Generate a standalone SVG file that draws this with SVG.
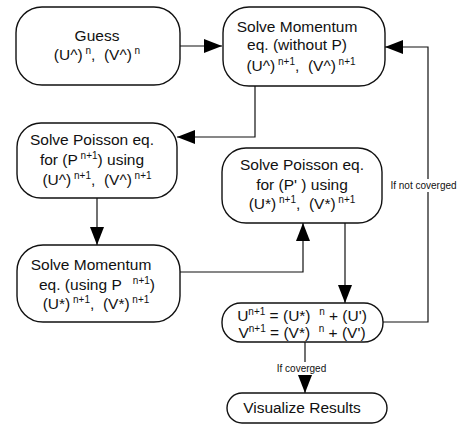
<svg xmlns="http://www.w3.org/2000/svg" width="466" height="426" viewBox="0 0 466 426">
<style>
.node{fill:#fff;stroke:#111;stroke-width:1.4}
.t{font-family:"Liberation Sans",Arial,sans-serif;font-size:15.5px;fill:#111;text-anchor:middle;white-space:pre}
.s{font-size:10px}
.lbl{font-family:"Liberation Sans",Arial,sans-serif;font-size:10px;fill:#111;text-anchor:middle}
.c{fill:none;stroke:#111;stroke-width:1.2}
</style>
<defs>
<marker id="ah" markerUnits="userSpaceOnUse" markerWidth="18" markerHeight="14" refX="18" refY="7" orient="auto">
<path d="M0,0 L18,7 L0,14 Z" fill="#000"/>
</marker>
</defs>
<rect width="466" height="426" fill="#fff"/>
<g id="connectors">
<path class="c" d="M180,46 H222" marker-end="url(#ah)"/>
<path class="c" d="M255,86 V137 H177" marker-end="url(#ah)"/>
<path class="c" d="M97,198 V245" marker-end="url(#ah)"/>
<path class="c" d="M180,272 H303 V223" marker-end="url(#ah)"/>
<path class="c" d="M345,223 V303" marker-end="url(#ah)"/>
<path class="c" d="M383,322 H428 V47 H385" marker-end="url(#ah)"/>
<path class="c" d="M305,342 V393" marker-end="url(#ah)"/>
<rect x="389" y="179" width="69" height="13" fill="#fff"/>
<text class="lbl" x="423.5" y="189">If not coverged</text>
<rect x="273" y="362" width="57" height="13" fill="#fff"/>
<text class="lbl" x="301.5" y="372">If coverged</text>
</g>
<g id="guess">
<rect class="node" x="16" y="7" width="164" height="78" rx="26"/>
<text class="t" x="97" y="41">Guess</text>
<text class="t" x="97" y="60">(U^)<tspan class="s" dy="-6"> n</tspan><tspan dy="6">,  (V^)</tspan><tspan class="s" dy="-6"> n</tspan></text>
</g>
<g id="mom1">
<rect class="node" x="223" y="7" width="162" height="79" rx="26"/>
<text class="t" x="297" y="32">Solve Momentum</text>
<text class="t" x="297" y="50">eq. (without P)</text>
<text class="t" x="301" y="71">(U^)<tspan class="s" dy="-6"> n+1</tspan><tspan dy="6">,  (V^)</tspan><tspan class="s" dy="-6"> n+1</tspan></text>
</g>
<g id="pois1">
<rect class="node" x="17" y="123" width="160" height="75" rx="24"/>
<text class="t" x="92" y="145">Solve Poisson eq.</text>
<text class="t" x="92" y="165">for (P<tspan class="s" dy="-6"> n+1</tspan><tspan dy="6">) using</tspan></text>
<text class="t" x="97" y="185">(U^)<tspan class="s" dy="-6"> n+1</tspan><tspan dy="6">,  (V^)</tspan><tspan class="s" dy="-6"> n+1</tspan></text>
</g>
<g id="mom2">
<rect class="node" x="17" y="245" width="163" height="77" rx="26"/>
<text class="t" x="91" y="270">Solve Momentum</text>
<text class="t" x="97" y="290">eq. (using P  <tspan class="s" dy="-6"> n+1</tspan><tspan dy="6">)</tspan></text>
<text class="t" x="96" y="309">(U*)<tspan class="s" dy="-6"> n+1</tspan><tspan dy="6">,  (V*)</tspan><tspan class="s" dy="-6"> n+1</tspan></text>
</g>
<g id="pois2">
<rect class="node" x="222" y="148" width="160" height="75" rx="24"/>
<text class="t" x="302" y="170">Solve Poisson eq.</text>
<text class="t" x="302" y="190">for (P' ) using</text>
<text class="t" x="302" y="209">(U*)<tspan class="s" dy="-6"> n+1</tspan><tspan dy="6">,  (V*)</tspan><tspan class="s" dy="-6"> n+1</tspan></text>
</g>
<g id="update">
<rect class="node" x="222" y="303" width="161" height="39" rx="19"/>
<text class="t" x="302" y="321">U<tspan class="s" dy="-6">n+1</tspan><tspan dy="6"> = (U*)  </tspan><tspan class="s" dy="-6">n</tspan><tspan dy="6"> + (U')</tspan></text>
<text class="t" x="302" y="338">V<tspan class="s" dy="-6">n+1</tspan><tspan dy="6"> = (V*)  </tspan><tspan class="s" dy="-6">n</tspan><tspan dy="6"> + (V')</tspan></text>
</g>
<g id="visualize">
<rect class="node" x="227" y="393" width="160" height="30" rx="15"/>
<text class="t" x="302" y="413">Visualize Results</text>
</g>
</svg>
